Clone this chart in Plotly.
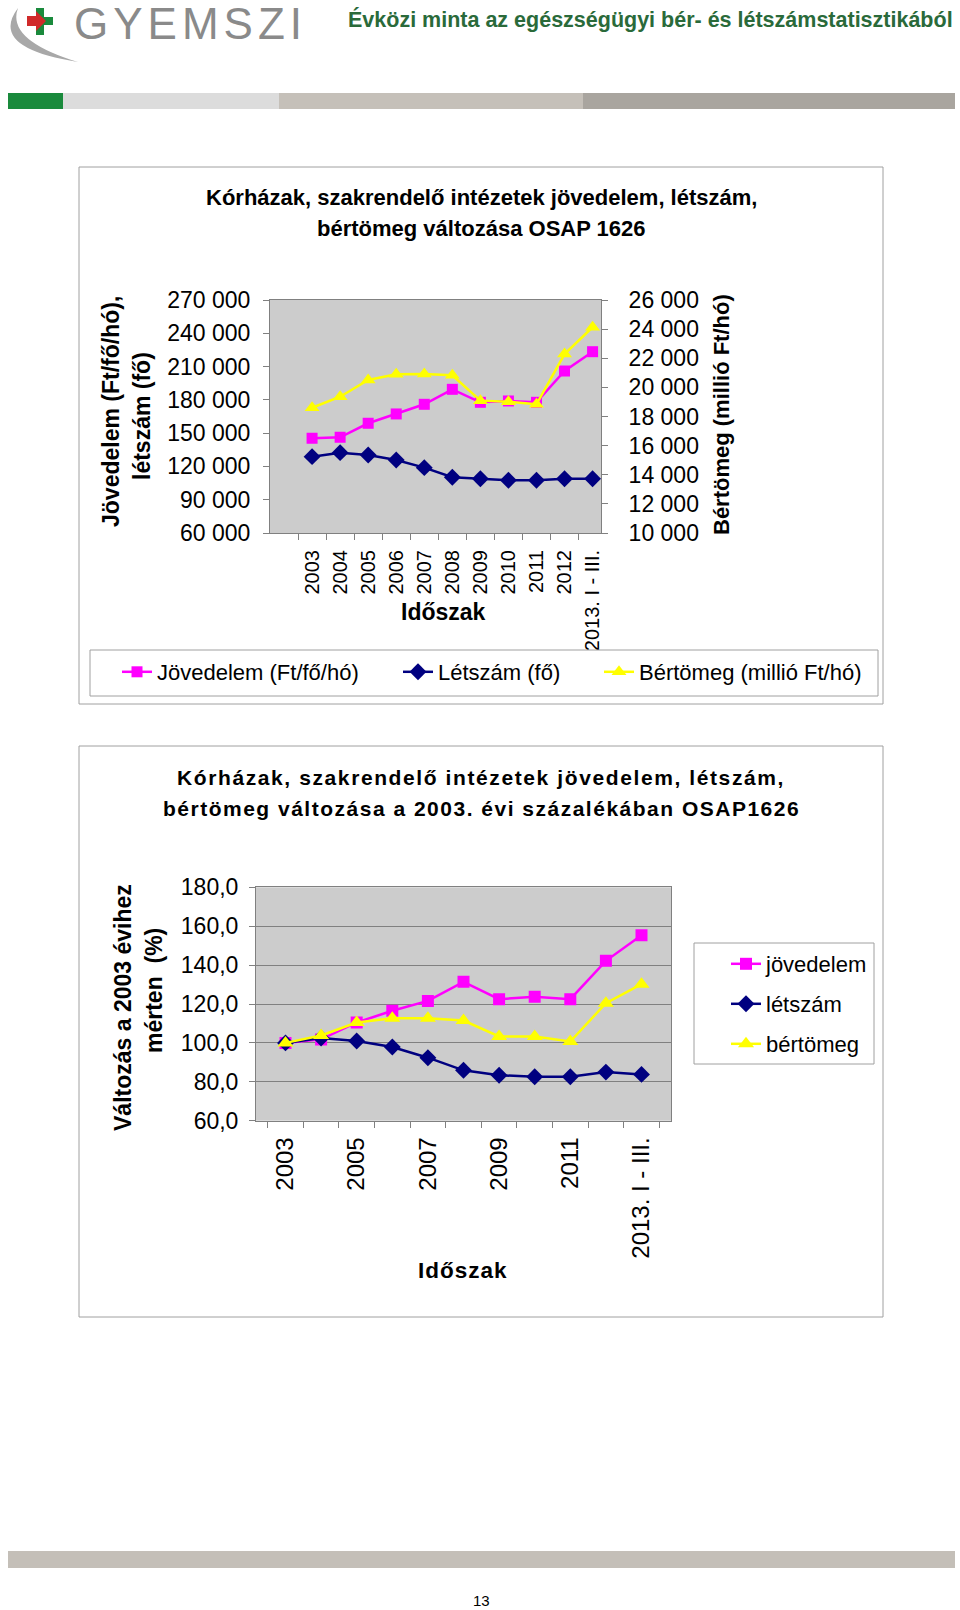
import plotly.graph_objects as go

W, H = 960, 1610

# ---------------- data ----------------
categories = ["2003", "2004", "2005", "2006", "2007", "2008", "2009", "2010",
              "2011", "2012", "2013. I - III."]

# chart 1 (absolute values)
jovedelem_ft = [145400, 146300, 158900, 167300, 176000, 189500, 177800, 179000, 177800, 206000, 223400]
letszam_fo = [128800, 132400, 130300, 125800, 118900, 110200, 108900, 107500, 107500, 108900, 108900]
bertomeg_mft = [18600, 19360, 20510, 20900, 20920, 20830, 19090, 19020, 18840, 22290, 24130]

# chart 2 (percent of 2003)
jovedelem_pct = [100.0, 101.8, 110.5, 116.5, 121.6, 131.4, 122.5, 123.7, 122.5, 142.2, 155.4]
letszam_pct = [100.0, 102.5, 101.0, 97.9, 92.4, 85.9, 83.4, 82.6, 82.6, 85.0, 83.8]
bertomeg_pct = [100.0, 103.8, 110.5, 112.7, 112.7, 111.5, 103.3, 103.3, 100.7, 120.4, 130.2]

left_ticks_1 = [60000, 90000, 120000, 150000, 180000, 210000, 240000, 270000]
right_ticks_1 = [10000, 12000, 14000, 16000, 18000, 20000, 22000, 24000, 26000]
ticks_2 = [60, 80, 100, 120, 140, 160, 180]
x_labels_2 = ["2003", "", "2005", "", "2007", "", "2009", "", "2011", "", "2013. I - III."]

names_1 = ["Jövedelem (Ft/fő/hó)", "Létszám (fő)", "Bértömeg (millió Ft/hó)"]
names_2 = ["jövedelem", "létszám", "bértömeg"]

# ---------------- helpers ----------------
def px(x):
    return x / W


def py(y):
    return 1 - y / H


FONT = "Arial, 'Liberation Sans', sans-serif"
NARROW = "'Liberation Sans Narrow', 'Arial Narrow', 'Liberation Sans', sans-serif"
MAG, NAVY, YEL = "#ff00ff", "#000080", "#ffff00"
AXC = "#808080"
styles = [("square", MAG), ("diamond", NAVY), ("triangle-up", YEL)]

fig = go.Figure()

# ---------------- chart 1 traces ----------------
series_1 = [jovedelem_ft, letszam_fo, bertomeg_mft]
sizes_1 = [11, 13, 13]
for i, vals in enumerate(series_1):
    sym, col = styles[i]
    fig.add_trace(go.Scatter(x=categories, y=vals, name=names_1[i], mode="lines+markers",
                             line=dict(color=col, width=2.5),
                             marker=dict(symbol=sym, size=sizes_1[i], color=col),
                             xaxis="x", yaxis="y2" if i == 2 else "y", showlegend=True,
                             legend=["legend", "legend2", "legend3"][i]))

# ---------------- chart 2 traces ----------------
series_2 = [jovedelem_pct, letszam_pct, bertomeg_pct]
sizes_2 = [12, 13, 14]
for i, vals in enumerate(series_2):
    sym, col = styles[i]
    fig.add_trace(go.Scatter(x=categories, y=vals, name=names_2[i], mode="lines+markers",
                             line=dict(color=col, width=2.5),
                             marker=dict(symbol=sym, size=sizes_2[i], color=col),
                             xaxis="x2", yaxis="y3", showlegend=True,
                             legend=["legend4", "legend5", "legend6"][i]))

axis_common = dict(showline=True, linecolor=AXC, linewidth=1, mirror=True,
                   ticks="outside", ticklen=6, tickcolor=AXC, showgrid=False,
                   zeroline=False, automargin=False)


def leg(x, y, size):
    return dict(orientation="h", x=px(x), y=py(y), xanchor="left", yanchor="middle",
                bgcolor="rgba(0,0,0,0)", borderwidth=0, visible=True,
                font=dict(family=FONT, size=size, color="#000"))


fig.update_layout(
    width=W, height=H, margin=dict(l=0, r=0, t=0, b=0, pad=0, autoexpand=False),
    paper_bgcolor="white", plot_bgcolor="#cccccc",
    separators=", ", showlegend=True,
    font=dict(family=FONT, color="#000"),
    xaxis=dict(axis_common, domain=[px(270), px(601)], anchor="y", type="category",
               range=[-1.5, 10.3],
               tickson="boundaries", tickangle=-90, ticklabelstandoff=8,
               tickfont=dict(family=FONT, size=20, color="#000")),
    yaxis=dict(axis_common, domain=[py(533), py(300)], anchor="x",
               range=[60000, 270000], tickmode="array", tickvals=left_ticks_1,
               tickformat=",d", ticklabelstandoff=8,
               tickfont=dict(family=FONT, size=23, color="#000")),
    yaxis2=dict(axis_common, overlaying="y", side="right", anchor="x", mirror=False,
                range=[10000, 26000], tickmode="array", tickvals=right_ticks_1,
                tickformat=",d", ticklabelstandoff=16,
                tickfont=dict(family=FONT, size=23, color="#000")),
    xaxis2=dict(axis_common, domain=[px(256), px(671)], anchor="y3", type="category",
                tickson="boundaries", tickangle=-90, tickmode="array",
                tickvals=categories, ticktext=x_labels_2, ticklabelstandoff=6,
                tickfont=dict(family=FONT, size=24, color="#000")),
    yaxis3=dict(axis_common, domain=[py(1120.7), py(887.3)], anchor="x2",
                range=[60, 180], tickmode="array", tickvals=ticks_2, tickformat=".1f",
                showgrid=True, gridcolor=AXC, gridwidth=1, ticklabelstandoff=6,
                tickfont=dict(family=FONT, size=23, color="#000")),
    legend=leg(157 - 40, 672, 22),
    legend2=leg(438 - 40, 672, 22),
    legend3=leg(639 - 40, 672, 22),
    legend4=leg(766 - 40, 964, 22),
    legend5=leg(766 - 40, 1004, 22),
    legend6=leg(766 - 40, 1044, 22),
)

shapes = []
# header bars
for x0, x1, col in [(8, 63, "#1a8a3c"), (63, 279, "#dcdcdc"), (279, 583, "#c5c0b9"), (583, 955, "#a9a59f")]:
    shapes.append(dict(type="rect", xref="paper", yref="paper", x0=px(x0), x1=px(x1),
                       y0=py(109), y1=py(93), fillcolor=col, line=dict(width=0), layer="below"))
# footer bar
shapes.append(dict(type="rect", xref="paper", yref="paper", x0=px(8), x1=px(955),
                   y0=py(1568), y1=py(1551), fillcolor="#c4bfb8", line=dict(width=0), layer="below"))
# chart frames
for y0, y1 in [(167, 704), (746, 1317)]:
    shapes.append(dict(type="rect", xref="paper", yref="paper", x0=px(79), x1=px(883),
                       y0=py(y1), y1=py(y0), line=dict(color="#a0a0a0", width=1),
                       fillcolor="rgba(0,0,0,0)", layer="below"))
# legend boxes
for x0, x1, y0, y1 in [(90, 878, 650, 696), (694, 874, 943, 1064)]:
    shapes.append(dict(type="rect", xref="paper", yref="paper", x0=px(x0), x1=px(x1),
                       y0=py(y1), y1=py(y0), line=dict(color="#a0a0a0", width=1),
                       fillcolor="white", layer="above"))


def path(points, close=True):
    s = "M " + " L ".join(f"{px(x):.5f},{py(y):.5f}" for x, y in points)
    return s + (" Z" if close else "")


# logo swoosh (crescent)
sw = ("M {a},{b} Q {c},{d} {e},{f} Q {g},{h} {i},{j} Z").format(
    a=f"{px(18):.5f}", b=f"{py(8):.5f}", c=f"{px(-12):.5f}", d=f"{py(48):.5f}",
    e=f"{px(78):.5f}", f=f"{py(62):.5f}", g=f"{px(6):.5f}", h=f"{py(40):.5f}",
    i=f"{px(18):.5f}", j=f"{py(8):.5f}")
shapes.append(dict(type="path", xref="paper", yref="paper", path=sw,
                   fillcolor="#a8a8a8", line=dict(width=0)))
# green cross
shapes.append(dict(type="path", xref="paper", yref="paper",
                   path=path([(36, 8), (44, 8), (44, 17), (53, 17), (53, 25), (44, 25), (44, 35),
                              (36, 35), (36, 25), (28, 25), (28, 17), (36, 17)]),
                   fillcolor="#1a8a3c", line=dict(width=0)))
# red arrow
shapes.append(dict(type="path", xref="paper", yref="paper",
                   path=path([(27, 16), (36, 16), (36, 11), (46, 21), (36, 31), (36, 26), (27, 26)]),
                   fillcolor="#d02a2a", line=dict(width=0)))
fig.update_layout(shapes=shapes)

ann = []


def A(text, x, y, size, bold=False, color="#000", angle=0, xanchor="center", family=FONT, ls=None):
    t = f"<b>{text}</b>" if bold else text
    if ls is not None:
        t = f'<span style="letter-spacing:{ls}px">{t}</span>'
    ann.append(dict(text=t, x=px(x), y=py(y), xref="paper", yref="paper", showarrow=False,
                    xanchor=xanchor, yanchor="middle", textangle=angle,
                    font=dict(family=family, size=size, color=color)))


# header texts
A("GYEMSZI", 72, 24, 44, color="#8a8a8a", xanchor="left", ls=5)
A("Évközi minta az egészségügyi bér- és létszámstatisztikából", 955, 19, 21.5, bold=True,
  color="#2a6a3a", xanchor="right", family=NARROW)

# chart 1 texts
A("Kórházak, szakrendelő intézetek jövedelem, létszám,", 481, 198, 22, bold=True)
A("bértömeg változása OSAP 1626", 481, 228, 22, bold=True)
A("Jövedelem (Ft/fő/hó),", 111, 412, 23, bold=True, angle=-90)
A("létszám (fő)", 142, 416, 23, bold=True, angle=-90)
A("Bértömeg (millió Ft/hó)", 721, 415, 22, bold=True, angle=-90)
A("Időszak", 443, 612, 23, bold=True)

# chart 2 texts
A("Kórházak, szakrendelő intézetek jövedelem, létszám,", 481, 777, 21, bold=True, ls=1.6)
A("bértömeg változása a 2003. évi százalékában OSAP1626", 481, 808, 21, bold=True, ls=1.5)
A("Változás a 2003 évihez", 123, 1007, 23, bold=True, angle=-90)
A("mérten  (%)", 154, 991, 23, bold=True, angle=-90)
A("Időszak", 463, 1270, 22.5, bold=True, ls=1)

# page number
A("13", 481, 1600, 15, family=NARROW)

fig.update_layout(annotations=ann)

fig.write_html("out.html",
               post_script="document.body.style.margin='0px';document.body.style.padding='0px';")
